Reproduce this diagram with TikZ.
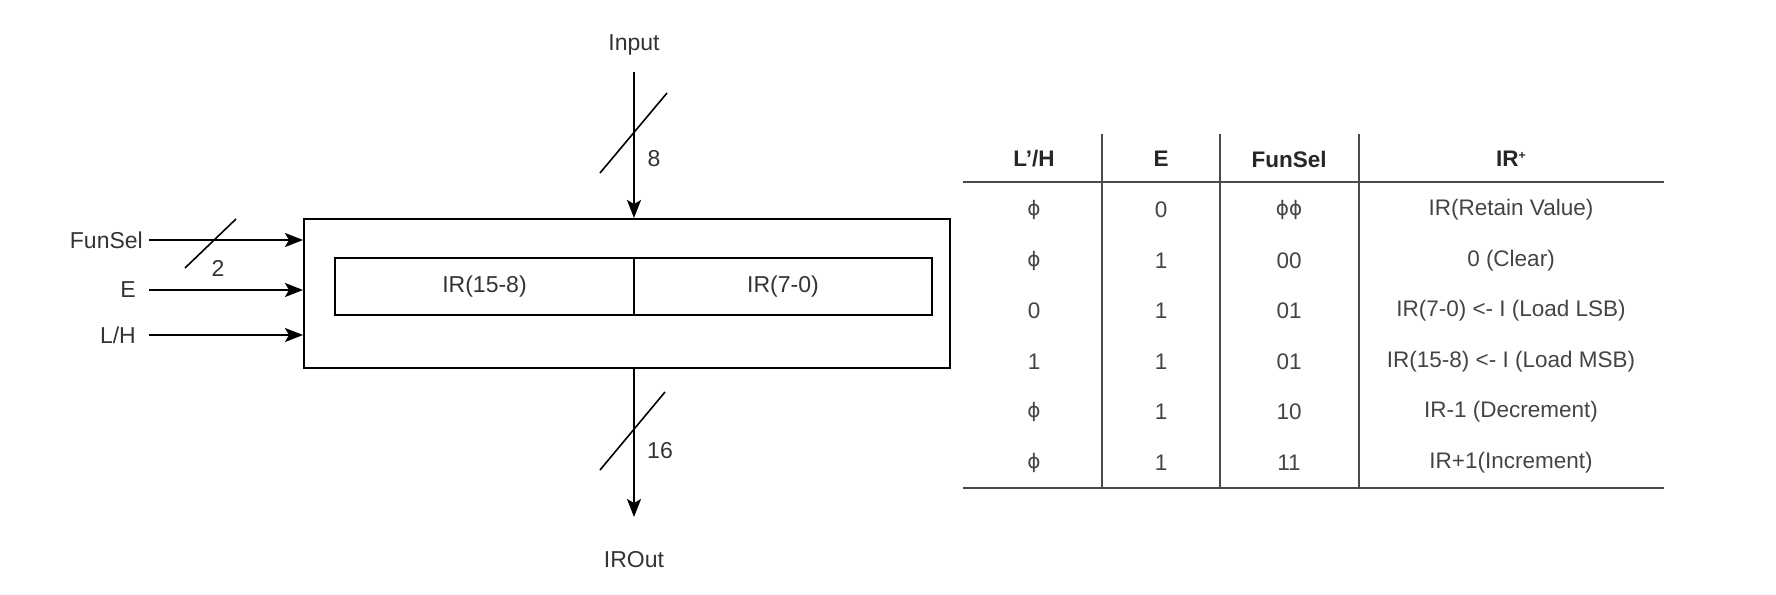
\documentclass[tikz,border=0pt]{standalone}
\usepackage{fontspec}
\setmainfont{Liberation Sans}
\newfontfamily\djv{DejaVu Sans}
\usetikzlibrary{arrows.meta}
\definecolor{txt}{HTML}{333333}
\definecolor{tbl}{HTML}{444444}
\definecolor{rule}{HTML}{4A4A4A}
\newcommand{\myphi}{{\djv\fontsize{20}{24}\selectfont ϕ}}
\begin{document}
\begin{tikzpicture}[x=1pt,y=-1pt,
  lbl/.style={text=txt,font=\fontsize{23}{27}\selectfont,inner sep=0pt},
  cell/.style={text=tbl,font=\fontsize{22.5}{27}\selectfont,inner sep=0pt},
  head/.style={text=black!85,font=\fontsize{22.5}{27}\selectfont\bfseries,inner sep=0pt},
  arr/.style={line width=2pt,-{Stealth[length=18pt,width=14pt,inset=4pt]}},
  wire/.style={line width=2pt},
  slash/.style={line width=1.6pt},
  boxs/.style={draw,line width=2pt,inner sep=0pt},
  tline/.style={draw=rule,line width=1.6pt}]
\useasboundingbox (0,0) rectangle (1776,594);

% main block
\node[boxs,minimum width=646pt,minimum height=149pt] (box) at (627,293.5) {};
\node[boxs,minimum width=299pt,minimum height=57pt] (hi) at (484.5,286.5) {};
\node[boxs,minimum width=298pt,minimum height=57pt] (lo) at (783,286.5) {};
\node[lbl] at (hi) {IR(15-8)};
\node[lbl] at (lo) {IR(7-0)};

% input
\node[lbl] (inp) at (634,45) {Input};
\coordinate (inTop) at (634,72);
\draw[arr] (inTop) -- (inTop |- box.north);
\coordinate (s1a) at (600,173); \coordinate (s1b) at (667,93);
\draw[slash] (s1a) -- (s1b);
\node[lbl] (n8) at (654,159) {8};

% output
\coordinate (outTop) at (634,368);
\coordinate (outEnd) at (634,517);
\draw[arr] (outTop) -- (outEnd);
\coordinate (s2a) at (600,470); \coordinate (s2b) at (665,392);
\draw[slash] (s2a) -- (s2b);
\node[lbl] (n16) at (660,451) {16};
\node[lbl] (irout) at (634,560) {IROut};

% left inputs
\node[lbl,anchor=east] (fs) at (143,240) {FunSel};
\node[lbl,anchor=east] (e) at (136,290) {E};
\node[lbl,anchor=east] (lh) at (136,335) {L/H};
\coordinate (fsS) at (149,240);
\coordinate (eS) at (149,290);
\coordinate (lhS) at (149,335);
\draw[arr] (fsS) -- (fsS -| box.west);
\draw[arr] (eS) -- (eS -| box.west);
\draw[arr] (lhS) -- (lhS -| box.west);
\coordinate (s3a) at (185,268); \coordinate (s3b) at (236,219);
\draw[slash] (s3a) -- (s3b);
\node[lbl] (n2) at (218,268) {2};

% table
\coordinate (tl) at (963,182); \coordinate (tr) at (1664,182);
\coordinate (bl) at (963,488); \coordinate (br) at (1664,488);
\draw[tline] (tl) -- (tr);
\draw[tline] (bl) -- (br);
\foreach \x in {1102,1220,1359} \draw[tline] (\x,134) -- (\x,488);

\node[head] (h1) at (1034,159) {L’/H};
\node[head] (h2) at (1161,159) {E};
\node[head] (h3) at (1289,159) {FunSel};
\node[head] (h4) at (1511,159) {IR\textsuperscript{\fontsize{12}{12}\selectfont+}};

\foreach \y/\a/\b/\c/\d in {
  210/\myphi/0/\myphi\myphi/IR(Retain Value),
  260.5/\myphi/1/00/0 (Clear),
  311/0/1/01/IR(7-0) <- I (Load LSB),
  361.5/1/1/01/IR(15-8) <- I (Load MSB),
  412/\myphi/1/10/IR-1 (Decrement),
  462.5/\myphi/1/11/IR+1(Increment)} {
  \node[cell] at (1034,\y) {\a};
  \node[cell] at (1161,\y) {\b};
  \node[cell] at (1289,\y) {\c};
  \node[cell] at (1511,\y) {\d};
}
\end{tikzpicture}
\end{document}
